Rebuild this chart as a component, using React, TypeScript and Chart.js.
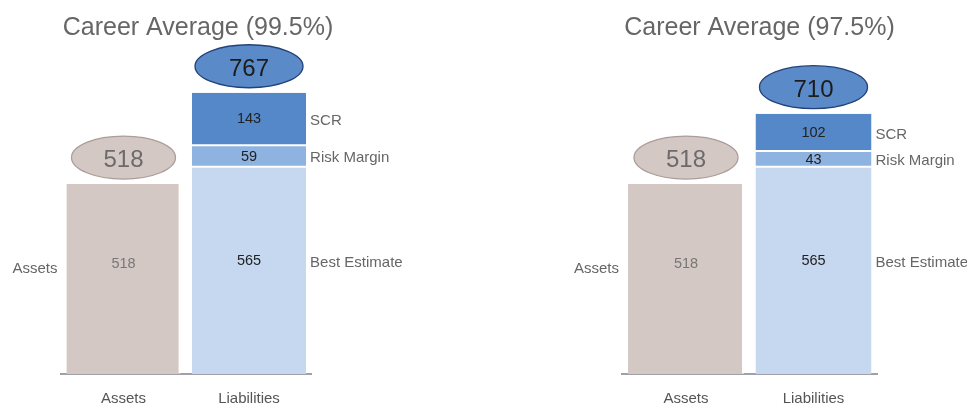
import React, { useEffect, useRef } from "react";
import { Chart, registerables } from "chart.js";

Chart.register(...registerables);

const categories = ["Assets", "Liabilities"];
const panelTitles = ["Career Average (99.5%)", "Career Average (97.5%)"];
const assetsValues = [518, 518];
const bestEstimateValues = [565, 565];
const riskMarginValues = [59, 43];
const scrValues = [143, 102];
const segmentNames = ["Best Estimate", "Risk Margin", "SCR"];
const assetsName = "Assets";

const FONT = "'Liberation Sans', Arial, sans-serif";

const COLORS = {
  assets: "#d4c8c4",
  best: "#c6d8f0",
  risk: "#8eb3e0",
  scr: "#5588c8",
};

type PanelLayout = { left: number; width: number; padLeft: number; padRight: number };

const layouts: PanelLayout[] = [
  { left: 0, width: 420, padLeft: 60.75, padRight: 108.25 },
  { left: 480, width: 487, padLeft: 142.25, padRight: 89.75 },
];

const CANVAS_H = 430;

const overlayPlugin = {
  id: "overlay",
  afterDatasetsDraw(chart: any) {
    const ctx = chart.ctx as CanvasRenderingContext2D;
    const opts = chart.options.plugins.overlay;
    const area = chart.chartArea;
    const y = chart.scales.y;

    ctx.save();
    // Title
    ctx.fillStyle = "#666666";
    ctx.font = `25px ${FONT}`;
    ctx.textAlign = "left";
    ctx.textBaseline = "alphabetic";
    ctx.fillText(opts.title, area.left + 2, 35);

    const assetBar = chart.getDatasetMeta(0).data[0];
    const beBar = chart.getDatasetMeta(1).data[1];
    const rmBar = chart.getDatasetMeta(2).data[1];
    const scrBar = chart.getDatasetMeta(3).data[1];

    const assetVal = chart.data.datasets[0].data[0];
    const beVal = chart.data.datasets[1].data[1];
    const rmVal = chart.data.datasets[2].data[1];
    const scrVal = chart.data.datasets[3].data[1];
    const total = beVal + rmVal + scrVal;

    const drawEllipse = (cx: number, cy: number, w: number, h: number, fill: string, stroke: string, text: string, textColor: string) => {
      ctx.beginPath();
      ctx.ellipse(cx, cy, w / 2, h / 2, 0, 0, Math.PI * 2);
      ctx.fillStyle = fill;
      ctx.fill();
      ctx.lineWidth = 1.3;
      ctx.strokeStyle = stroke;
      ctx.stroke();
      ctx.fillStyle = textColor;
      ctx.font = `24px ${FONT}`;
      ctx.textAlign = "center";
      ctx.textBaseline = "alphabetic";
      ctx.fillText(text, cx, cy + 9.5);
    };

    drawEllipse(assetBar.x, y.getPixelForValue(assetVal) - 26.5, 104, 43, COLORS.assets, "#ab9d99", String(assetVal), "#6b6b6b");
    drawEllipse(beBar.x, y.getPixelForValue(total) - 26.5, 108, 43, "#5a8ac8", "#23427a", String(total), "#1c1c1c");

    const cap = 0.716 / 2;
    const smallText = (txt: string, x: number, cy: number, color: string, size: number, align: CanvasTextAlign) => {
      ctx.fillStyle = color;
      ctx.font = `${size}px ${FONT}`;
      ctx.textAlign = align;
      ctx.textBaseline = "alphabetic";
      ctx.fillText(txt, x, cy + size * cap);
    };

    const mid = (bar: any) => (bar.y + bar.base) / 2;

    // in-bar values
    smallText(String(assetVal), assetBar.x, mid(assetBar) - 16, "#777777", 14.5, "center");
    smallText(String(beVal), beBar.x, mid(beBar) - 11, "#222222", 14.5, "center");
    smallText(String(rmVal), rmBar.x, mid(rmBar), "#222222", 14.5, "center");
    smallText(String(scrVal), scrBar.x, mid(scrBar) - 1, "#222222", 14.5, "center");

    // side labels
    const rightX = beBar.x + beBar.width / 2 + 4;
    smallText(segmentNames[2], rightX, mid(scrBar) + 1, "#666666", 15, "left");
    smallText(segmentNames[1], rightX, mid(rmBar) + 1, "#666666", 15, "left");
    smallText(segmentNames[0], rightX, mid(beBar) - 9, "#666666", 15, "left");
    const leftX = assetBar.x - assetBar.width / 2 - 9;
    smallText(assetsName, leftX, mid(assetBar) - 11, "#666666", 15, "right");

    ctx.restore();
  },
};

function Panel({ index }: { index: number }) {
  const ref = useRef<HTMLCanvasElement | null>(null);
  const lay = layouts[index];

  useEffect(() => {
    if (!ref.current) return;
    const chart = new Chart(ref.current, {
      type: "bar",
      data: {
        labels: categories,
        datasets: [
          {
            label: assetsName,
            data: [assetsValues[index], null],
            backgroundColor: COLORS.assets,
            borderColor: "rgba(255,255,255,0.55)",
            borderWidth: { top: 0, bottom: 0, left: 0, right: 2 },
            borderSkipped: false,
          },
          {
            label: segmentNames[0],
            data: [null, bestEstimateValues[index]],
            backgroundColor: COLORS.best,
            borderColor: "#ffffff",
            borderWidth: { top: 1, bottom: 0, left: 0, right: 0 },
            borderSkipped: false,
          },
          {
            label: segmentNames[1],
            data: [null, riskMarginValues[index]],
            backgroundColor: COLORS.risk,
            borderColor: "#ffffff",
            borderWidth: { top: 1, bottom: 1, left: 0, right: 0 },
            borderSkipped: false,
          },
          {
            label: segmentNames[2],
            data: [null, scrValues[index]],
            backgroundColor: COLORS.scr,
            borderColor: "#ffffff",
            borderWidth: { top: 0, bottom: 1, left: 0, right: 0 },
            borderSkipped: false,
          },
        ] as any,
      },
      options: {
        animation: false,
        responsive: false,
        maintainAspectRatio: false,
        layout: {
          padding: { left: lay.padLeft, right: lay.padRight, top: 44, bottom: 6 },
        },
        datasets: {
          bar: { barPercentage: 0.91, categoryPercentage: 1 },
        },
        plugins: {
          legend: { display: false },
          tooltip: { enabled: false },
          title: { display: false },
          overlay: { title: panelTitles[index] },
        } as any,
        scales: {
          x: {
            stacked: true,
            grid: { display: false, drawTicks: false },
            border: { display: true, color: "#a0a0a8", width: 2 },
            ticks: {
              color: "#555555",
              font: { family: FONT, size: 15 },
              padding: 16,
            },
          },
          y: {
            stacked: true,
            display: false,
            min: 0,
            max: 900,
          },
        },
      },
      plugins: [overlayPlugin],
    });
    return () => chart.destroy();
  }, [index]);

  return (
    <canvas
      ref={ref}
      width={lay.width}
      height={CANVAS_H}
      style={{ position: "absolute", left: lay.left, top: 0, width: lay.width, height: CANVAS_H }}
    />
  );
}

export default function App() {
  return (
    <div
      style={{
        position: "absolute",
        left: 0,
        top: 0,
        width: 967,
        height: 404,
        overflow: "hidden",
        background: "#ffffff",
      }}
    >
      <Panel index={0} />
      <Panel index={1} />
    </div>
  );
}
